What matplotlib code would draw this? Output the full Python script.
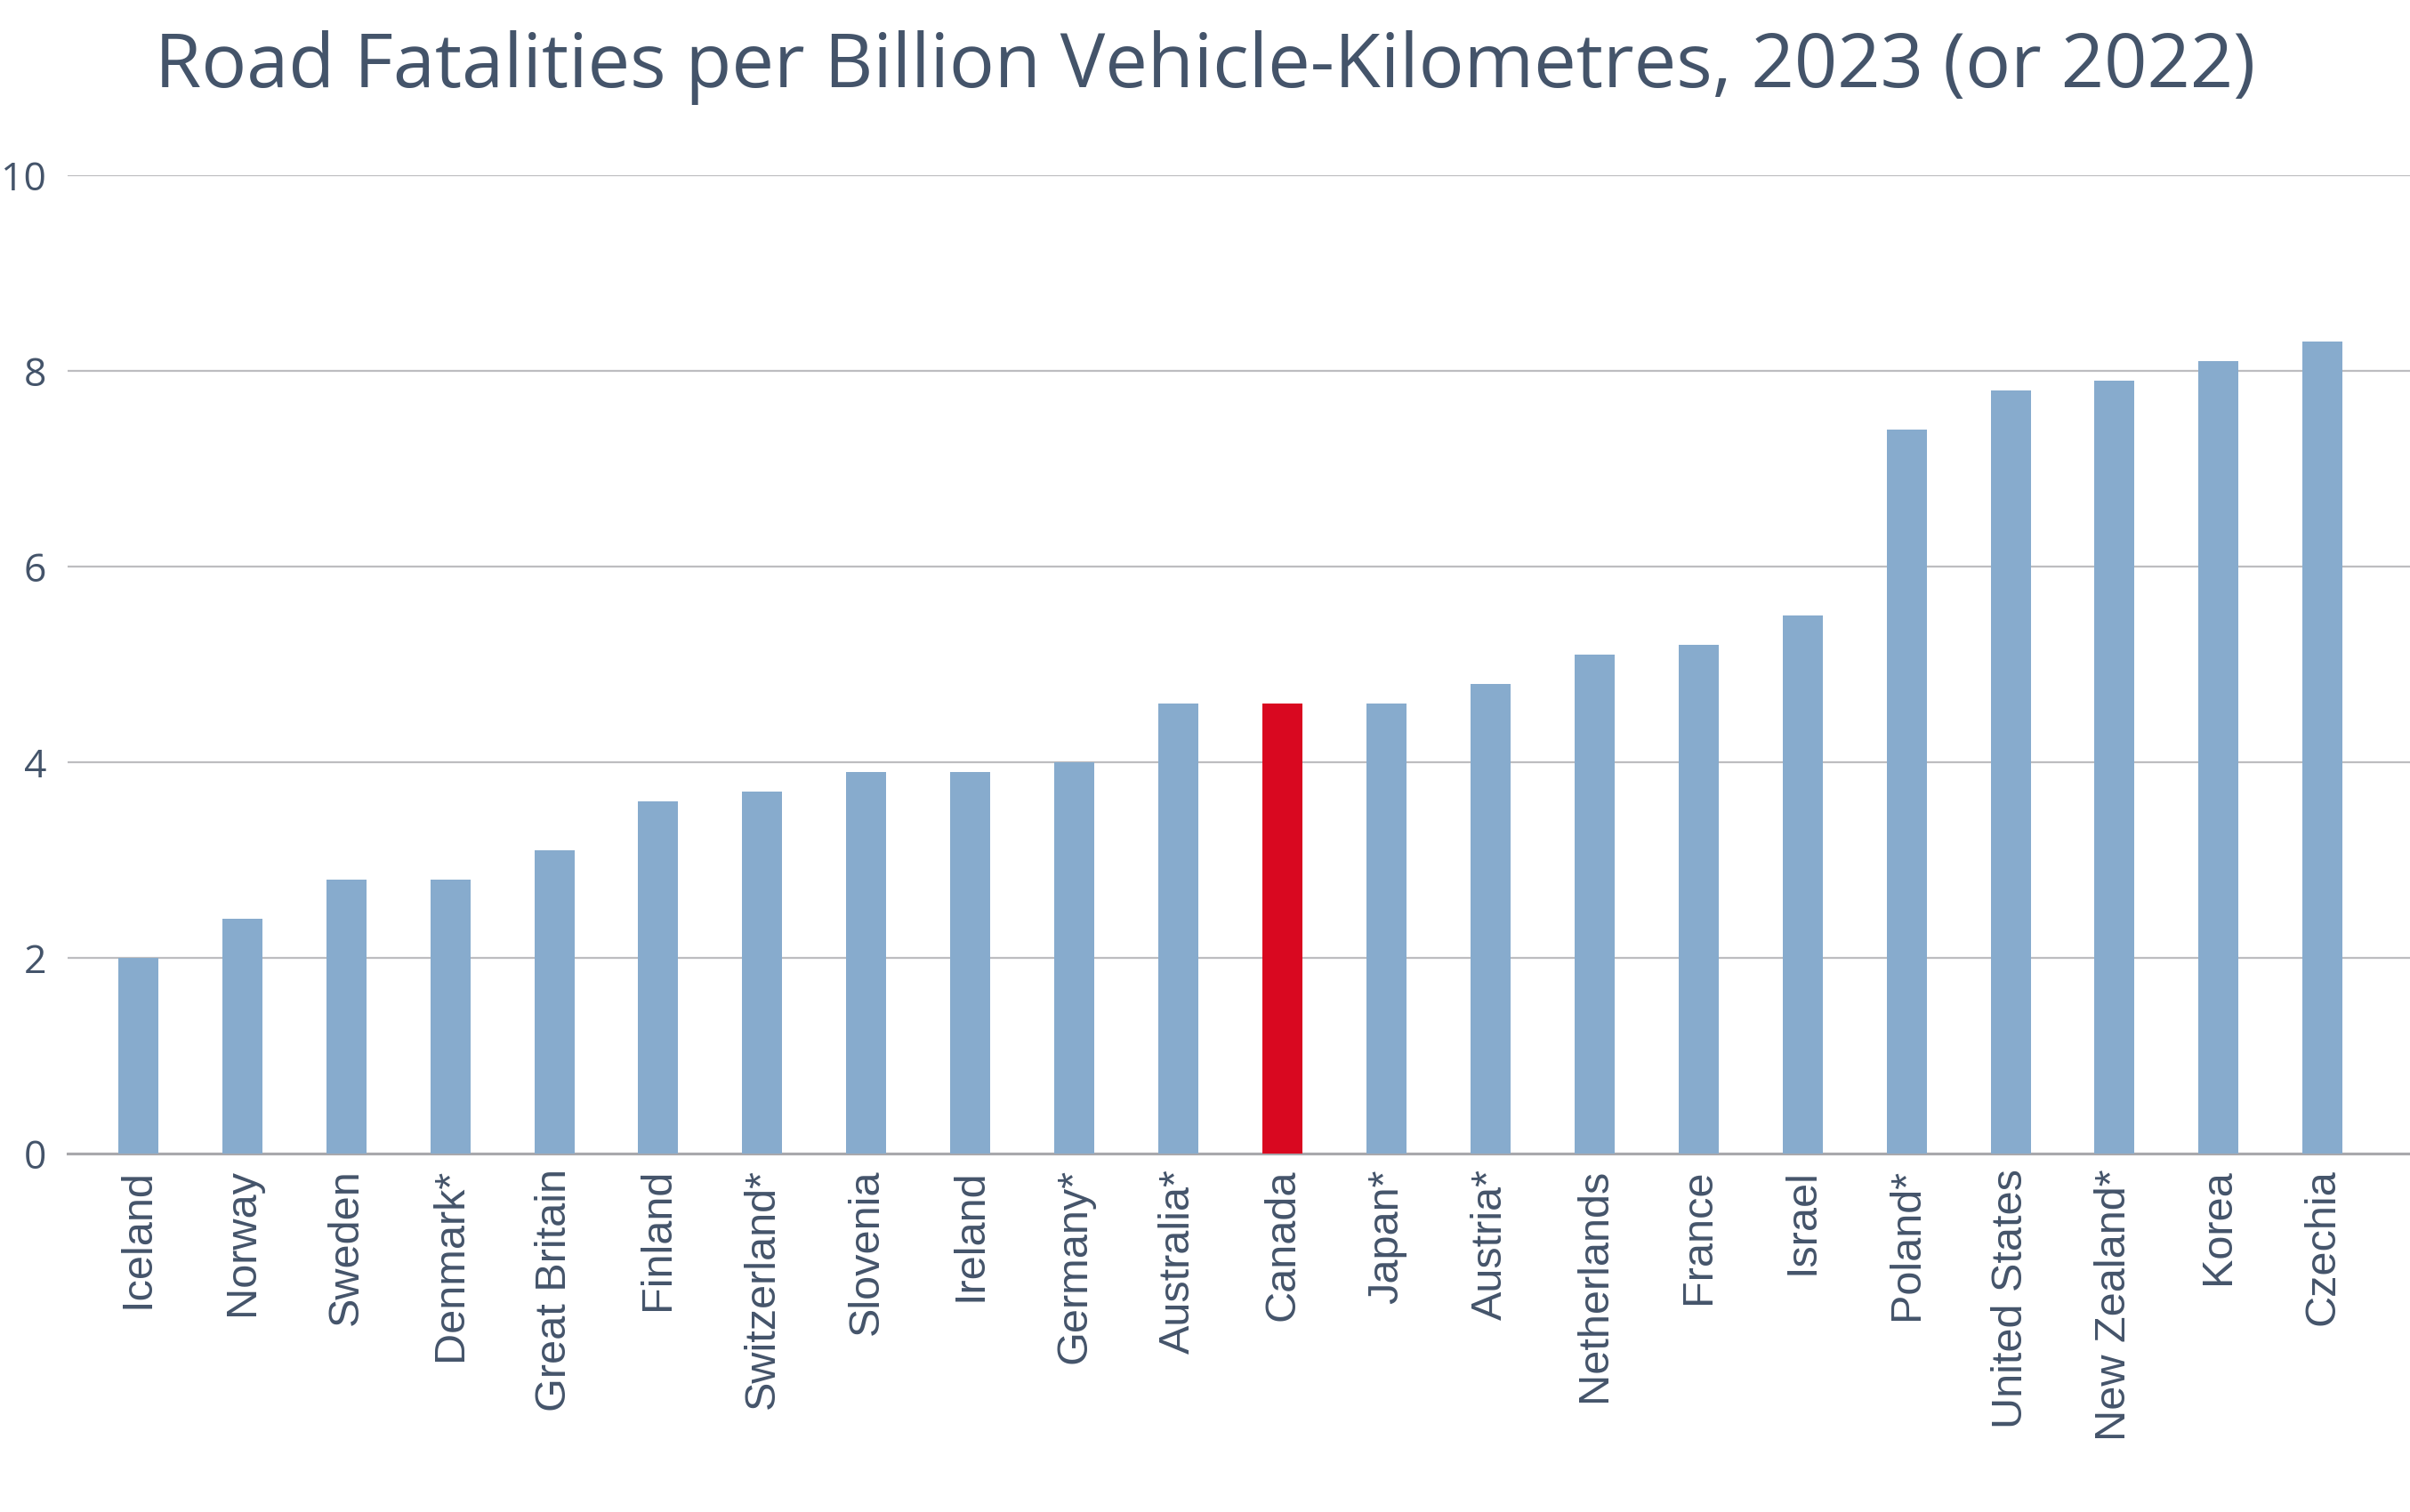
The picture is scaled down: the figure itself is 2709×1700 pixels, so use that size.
import matplotlib
matplotlib.use("Agg")
import matplotlib.pyplot as plt
import numpy as np

countries = ["Iceland", "Norway", "Sweden", "Denmark*", "Great Britain", "Finland",
             "Switzerland*", "Slovenia", "Ireland", "Germany*", "Australia*", "Canada",
             "Japan*", "Austria*", "Netherlands", "France", "Israel", "Poland*",
             "United States", "New Zealand*", "Korea", "Czechia"]
fatalities = [2.0, 2.4, 2.8, 2.8, 3.1, 3.6, 3.7, 3.9, 3.9, 4.0, 4.6, 4.6,
              4.6, 4.8, 5.1, 5.2, 5.5, 7.4, 7.8, 7.9, 8.1, 8.3]
highlight = "Canada"
yticks = [0, 2, 4, 6, 8, 10]

text_col = "#44546A"
blue = "#87ABCD"
red = "#D90820"

fig = plt.figure(figsize=(27.09, 17), dpi=100)
ax = fig.add_axes([0.028, 0.2368, 0.972, 0.6473])

x = np.arange(len(countries))
colors = [red if c == highlight else blue for c in countries]
ax.bar(x, fatalities, width=0.385, color=colors, zorder=3)

ax.set_ylim(0, 10)
ax.set_xlim(-0.68, len(countries) - 0.16)
ax.set_yticks(yticks)
ax.set_yticklabels([str(t) for t in yticks], fontsize=32, color=text_col,
                   family=["Open Sans", "DejaVu Sans"])
ax.set_xticks(x)
ax.set_xticklabels(countries, rotation=90, fontsize=35, color=text_col,
                   family=["Liberation Sans", "DejaVu Sans"])
ax.tick_params(axis="both", length=0)
ax.tick_params(axis="y", pad=17)
ax.tick_params(axis="x", pad=12)

ax.grid(axis="y", color="#BDBDC0", linewidth=1.6, zorder=0)
for s in ["left", "right", "top"]:
    ax.spines[s].set_visible(False)
ax.spines["bottom"].set_color("#A8A8AC")
ax.spines["bottom"].set_linewidth(2.2)

fig.text(0.5, 0.98, "Road Fatalities per Billion Vehicle-Kilometres, 2023 (or 2022)",
         ha="center", va="top", fontsize=61, color=text_col,
         family=["Open Sans", "DejaVu Sans"])

fig.savefig("out.png", dpi=100, facecolor="white")
